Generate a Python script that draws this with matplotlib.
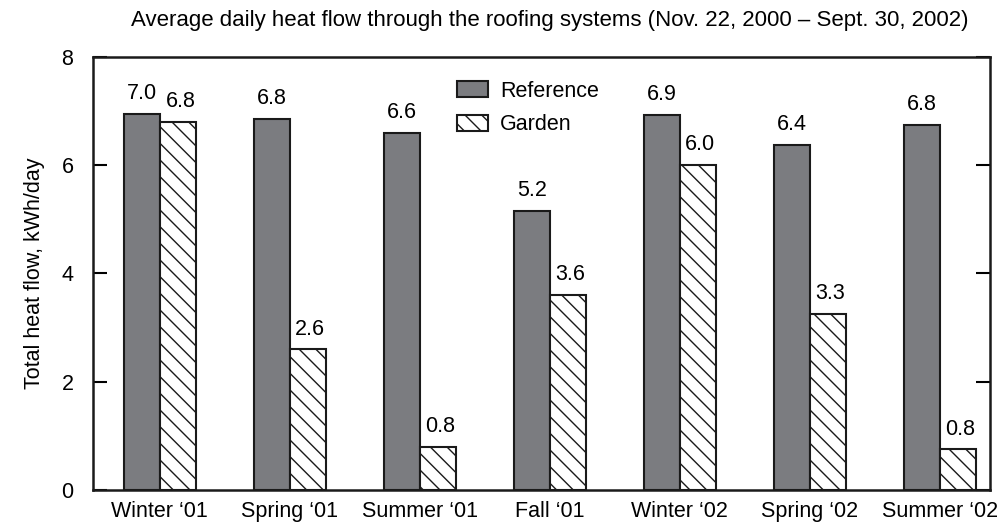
import numpy as np
import matplotlib.pyplot as plt

plt.rcParams["font.family"] = ["Liberation Sans", "DejaVu Sans"]
plt.rcParams["hatch.linewidth"] = 1.0

seasons = ["Winter \u201801", "Spring \u201801", "Summer \u201801", "Fall \u201801",
           "Winter \u201802", "Spring \u201802", "Summer \u201802"]
reference = [6.95, 6.85, 6.6, 5.15, 6.93, 6.38, 6.75]
garden = [6.8, 2.6, 0.8, 3.6, 6.0, 3.25, 0.75]
ref_labels = ["7.0", "6.8", "6.6", "5.2", "6.9", "6.4", "6.8"]
garden_labels = ["6.8", "2.6", "0.8", "3.6", "6.0", "3.3", "0.8"]

fs = 15.5

fig = plt.figure(figsize=(9.99, 5.31), dpi=100)
ax = fig.add_axes([0.093, 0.077, 0.898, 0.816])

x = np.arange(len(seasons))
w = 0.275
ax.bar(x - w / 2, reference, w, color="#7b7c80", edgecolor="#1a1a1a",
       linewidth=1.5, label="Reference")
ax.bar(x + w / 2, garden, w, color="white", edgecolor="#1a1a1a",
       linewidth=1.5, hatch="\\\\", label="Garden")

for xi, v, s in zip(x, reference, ref_labels):
    ax.text(xi - w / 2, v + 0.18, s, ha="center", va="bottom", fontsize=fs)
for xi, v, s in zip(x, garden, garden_labels):
    ax.text(xi + w / 2 + 0.02, v + 0.18, s, ha="center", va="bottom", fontsize=fs)

ax.set_xlim(-0.515, 6.385)
ax.set_ylim(0, 8)
ax.set_yticks([0, 2, 4, 6, 8])
ax.set_xticks(x)
ax.set_xticklabels(seasons, fontsize=fs)
ax.tick_params(axis="x", length=0, pad=8)
ax.tick_params(axis="y", direction="in", length=10, width=1.5, labelsize=fs,
               right=True, pad=14)
for sp in ax.spines.values():
    sp.set_linewidth(1.8)
    sp.set_color("#1a1a1a")

ax.set_ylabel("Total heat flow, kWh/day", fontsize=fs, labelpad=12)
fig.text(0.55, 0.962, "Average daily heat flow through the roofing systems "
         "(Nov. 22, 2000 \u2013 Sept. 30, 2002)", ha="center", va="center",
         fontsize=fs + 0.5)

ax.legend(loc="upper left", bbox_to_anchor=(0.384, 0.99), frameon=False,
          fontsize=fs, handlelength=1.45, handleheight=0.8, labelspacing=0.6,
          handletextpad=0.55)

fig.savefig("out.png", dpi=100)
